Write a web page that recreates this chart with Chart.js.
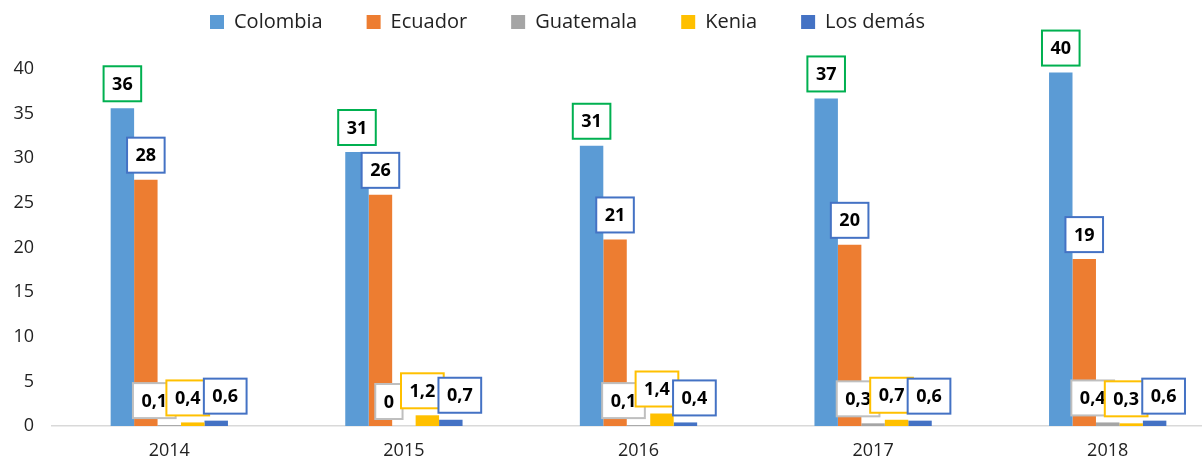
<!DOCTYPE html>
<html lang="es">
<head>
  <meta charset="UTF-8">
  <title>Participación por país de origen</title>
  <script src="https://cdn.jsdelivr.net/npm/chart.js"></script>
  <style>
    body {
      margin: 0;
      background: #fff;
      overflow: hidden;
    }
    .chart-box {
      position: relative;
      width: 1225px;
      height: 461px;
    }
  </style>
</head>
<body>
  <div class="chart-box"><canvas id="chart"></canvas></div>

  <script>
    const years = ['2014', '2015', '2016', '2017', '2018'];
    const seriesNames = ['Colombia', 'Ecuador', 'Guatemala', 'Kenia', 'Los demás'];
    const colombia = [35.6, 30.7, 31.4, 36.7, 39.6];
    const ecuador = [27.6, 25.9, 20.9, 20.3, 18.7];
    const guatemala = [0.1, 0, 0.1, 0.3, 0.4];
    const kenia = [0.4, 1.2, 1.4, 0.7, 0.3];
    const losDemas = [0.6, 0.7, 0.4, 0.6, 0.6];
    const yTicks = [0, 5, 10, 15, 20, 25, 30, 35, 40];

    const barColors = ['#5B9BD5', '#ED7D31', '#A5A5A5', '#FFC000', '#4472C4'];
    const boxBorders = ['#00B050', '#4472C4', '#BFBFBF', '#FFC000', '#4472C4'];
    // the small labels were nudged sideways so they don't pile on each other
    const labelShift = [0, 0, -15, -5, 9];

    function fmt(v) {
      if (v >= 10) return String(Math.round(v));
      if (v === 0) return '0';
      return v.toFixed(1).replace('.', ',');
    }

    // boxed value labels above each bar
    const boxLabels = {
      id: 'boxLabels',
      afterDatasetsDraw(chart) {
        const ctx = chart.ctx;
        ctx.save();
        ctx.font = 'bold 18px "Open Sans"';
        ctx.textAlign = 'center';
        ctx.textBaseline = 'middle';
        chart.data.datasets.forEach((ds, i) => {
          chart.getDatasetMeta(i).data.forEach((bar, j) => {
            const txt = fmt(ds.data[j]);
            const w = ctx.measureText(txt).width + 17;
            const h = 35;
            const cx = bar.x + labelShift[i];
            const bottom = bar.y - 7;
            ctx.fillStyle = '#fff';
            ctx.fillRect(cx - w / 2, bottom - h, w, h);
            ctx.strokeStyle = boxBorders[i];
            ctx.lineWidth = 2;
            ctx.strokeRect(cx - w / 2, bottom - h, w, h);
            ctx.fillStyle = '#000';
            ctx.fillText(txt, cx, bottom - h / 2 + 1);
          });
        });
        ctx.restore();
      }
    };

    // legend sits left of centre and the plot starts lower, like the original
    const legendPlacement = {
      id: 'legendPlacement',
      beforeInit(chart) {
        const origFit = chart.legend.fit;
        chart.legend.fit = function () {
          origFit.call(this);
          this.height = 69;
        };
      },
      afterLayout(chart) {
        chart.legend.left = 166;
        chart.legend.top = -32;
      }
    };

    const seriesData = [colombia, ecuador, guatemala, kenia, losDemas];

    new Chart(document.getElementById('chart'), {
      type: 'bar',
      data: {
        labels: years,
        datasets: seriesNames.map((name, i) => ({
          label: name,
          data: seriesData[i],
          backgroundColor: barColors[i],
          borderWidth: 0,
          categoryPercentage: 0.5,
          barPercentage: 1.0
        }))
      },
      options: {
        responsive: true,
        maintainAspectRatio: false,
        animation: false,
        layout: { padding: 0 },
        plugins: {
          legend: {
            position: 'top',
            align: 'start',
            labels: {
              boxWidth: 14,
              boxHeight: 14,
              padding: 44,
              color: '#222',
              font: { family: 'Open Sans', size: 20 }
            }
          },
          tooltip: { enabled: false }
        },
        scales: {
          x: {
            grid: { display: false, drawTicks: false },
            border: { display: true, color: '#D9D9D9', width: 1.5 },
            ticks: { color: '#222', padding: 14, font: { family: 'Open Sans', size: 18 } },
            afterFit(scale) { scale.height = 35; }
          },
          y: {
            min: yTicks[0],
            max: yTicks[yTicks.length - 1],
            afterBuildTicks(scale) { scale.ticks = yTicks.map(v => ({ value: v })); },
            grid: { display: false, drawTicks: false },
            border: { display: false },
            ticks: { color: '#222', padding: 18, font: { family: 'Open Sans', size: 18 } },
            afterFit(scale) { scale.width = 52; }
          }
        }
      },
      plugins: [boxLabels, legendPlacement]
    });
  </script>
</body>
</html>
